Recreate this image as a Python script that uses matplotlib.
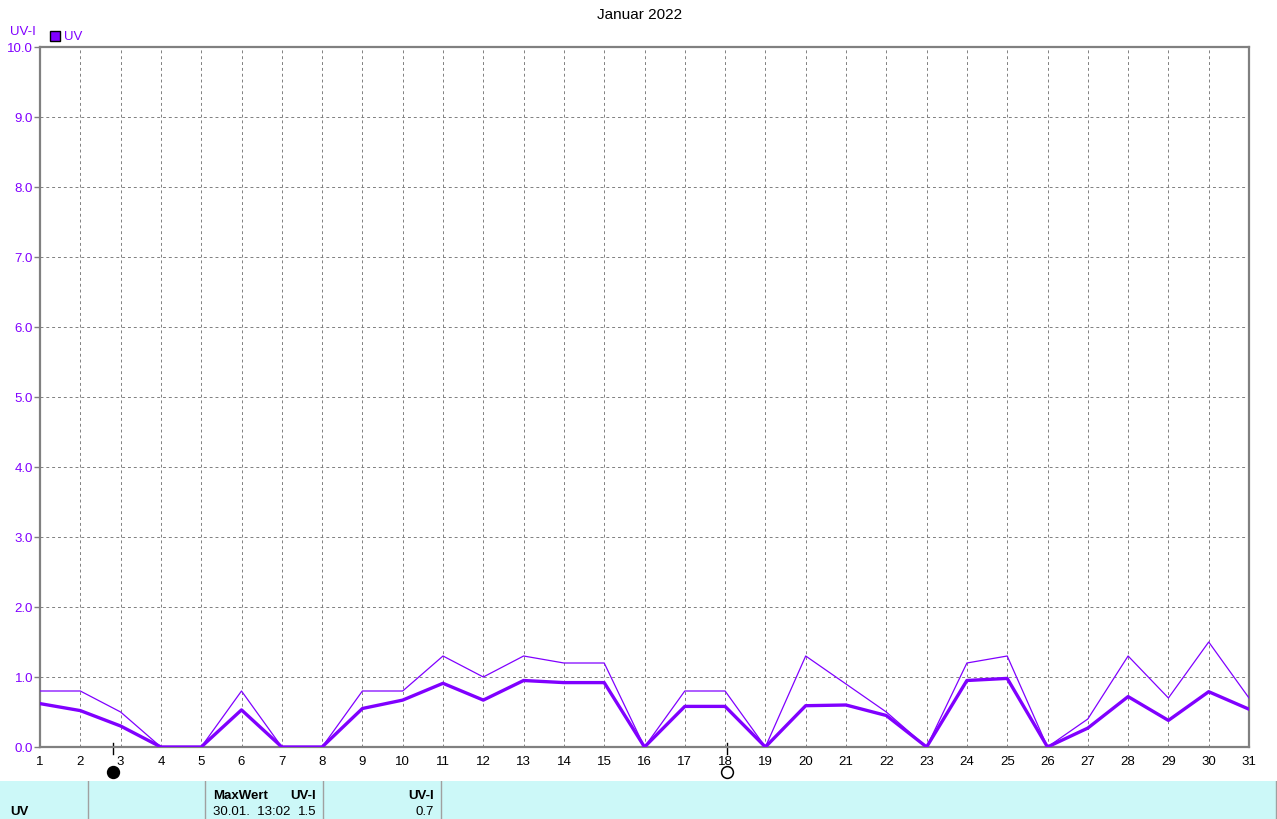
import matplotlib.pyplot as plt
import matplotlib.transforms as mtransforms
from matplotlib.patches import Rectangle

plt.rcParams["font.family"] = ["Liberation Sans", "DejaVu Sans"]

W, H = 1277, 820

days = list(range(1, 32))
uv_max = [0.8, 0.8, 0.5, 0.0, 0.0, 0.8, 0.0, 0.0, 0.8, 0.8,
          1.3, 1.0, 1.3, 1.2, 1.2, 0.0, 0.8, 0.8, 0.0, 1.3,
          0.9, 0.5, 0.0, 1.2, 1.3, 0.0, 0.4, 1.3, 0.7, 1.5, 0.7]
uv_mean = [0.62, 0.52, 0.30, 0.0, 0.0, 0.53, 0.0, 0.0, 0.55, 0.67,
           0.91, 0.67, 0.95, 0.92, 0.92, 0.0, 0.58, 0.58, 0.0, 0.59,
           0.60, 0.45, 0.0, 0.95, 0.98, 0.0, 0.27, 0.72, 0.38, 0.79, 0.54]
yticks = [i for i in range(0, 11)]
new_moon_day = 2.81
full_moon_day = 18.05

PURPLE = "#8000ff"
GRID = "#808080"

fig = plt.figure(figsize=(W / 100, H / 100), dpi=100)
ax = fig.add_axes([40 / W, (H - 748) / H, (1249 - 40) / W, 700 / H])

ax.plot(days, uv_max, color=PURPLE, lw=0.9, zorder=3)
ax.plot(days, uv_mean, color=PURPLE, lw=2.4, zorder=4)

ax.set_xlim(1, 31)
ax.set_ylim(0, 10)
ax.set_xticks(days)
ax.set_xticklabels([str(d) for d in days], fontsize=9.5)
ax.set_yticks(yticks)
ax.set_yticklabels([f"{v:.1f}" for v in yticks], fontsize=9.5, color=PURPLE)
ax.tick_params(axis="y", length=4, width=1, color=GRID, pad=1)
ax.tick_params(axis="x", length=0, pad=6)
ax.grid(True, color=GRID, ls=(0, (3, 3)), lw=0.7)
for s in ax.spines.values():
    s.set_color(GRID)
    s.set_linewidth(1.6)

# moon phases below the axis
trans = mtransforms.blended_transform_factory(ax.transData, ax.transAxes)
for d, face in [(new_moon_day, "black"), (full_moon_day, "white")]:
    ax.plot([d, d], [0.006, -0.01], color="black", lw=1, transform=trans, clip_on=False)
    ax.plot([d], [-0.036], marker="o", ms=8.5, mfc=face, mec="black", mew=1.1,
            transform=trans, clip_on=False)

fig.text(640 / W, 1 - 15 / H, "Januar 2022", ha="center", va="center", fontsize=11)
fig.text(10 / W, 1 - 32 / H, "UV-I", ha="left", va="center", fontsize=9.5, color=PURPLE)
fig.patches.append(Rectangle((50 / W, 1 - 42 / H), 10 / W, 10 / H, transform=fig.transFigure,
                             facecolor=PURPLE, edgecolor="black", lw=1))
fig.text(64 / W, 1 - 37 / H, "UV", ha="left", va="center", fontsize=9.5, color=PURPLE)

# summary table at the bottom
tab = fig.add_axes([0, 0, 1, 38 / H])
tab.set_xlim(0, W)
tab.set_ylim(38, 0)
tab.axis("off")
tab.add_patch(Rectangle((0, 0), W, 38, facecolor="#ccf8f8", edgecolor="none"))
for x in [88, 205, 323, 441, 1276]:
    tab.plot([x, x], [0, 38], color="#a0a0a0", lw=1)
tab.text(10, 30, "UV", fontsize=9.5, fontweight="bold", va="center")
tab.text(213, 14, "MaxWert", fontsize=9.5, fontweight="bold", va="center")
tab.text(316, 14, "UV-I", fontsize=9.5, fontweight="bold", va="center", ha="right")
tab.text(213, 30, "30.01.  13:02", fontsize=9.5, va="center")
tab.text(316, 30, "1.5", fontsize=9.5, va="center", ha="right")
tab.text(434, 14, "UV-I", fontsize=9.5, fontweight="bold", va="center", ha="right")
tab.text(434, 30, "0.7", fontsize=9.5, va="center", ha="right")

fig.savefig("out.png", dpi=100)
